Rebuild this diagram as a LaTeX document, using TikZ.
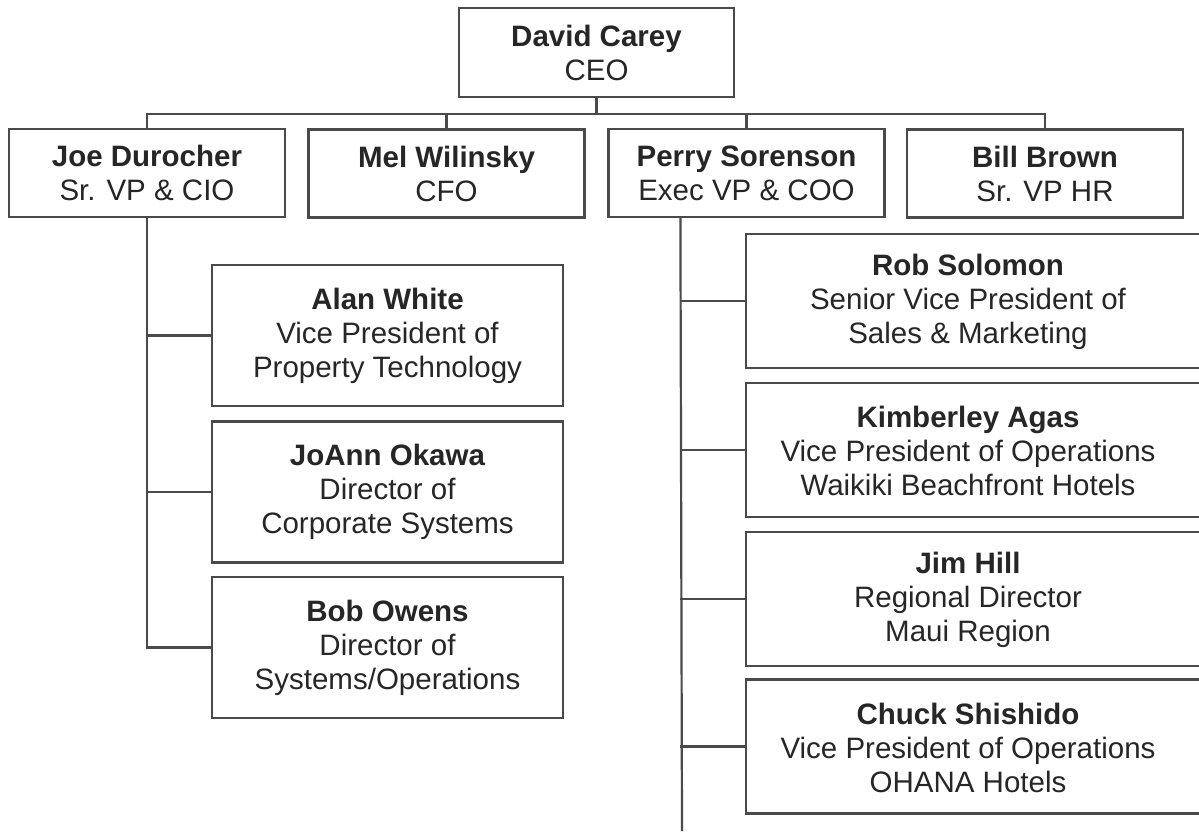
\documentclass[tikz,border=0pt]{standalone}
\usepackage{fontspec}
\setmainfont{Liberation Sans}
\definecolor{linegray}{HTML}{4A4A4A}
\definecolor{textgray}{HTML}{262626}
\begin{document}
\begin{tikzpicture}[x=1pt,y=-1pt,
  box/.style={draw=linegray, line width=2.2pt, fill=white, inner sep=0pt,
    align=center, text=textgray, font=\fontsize{29.5}{34}\selectfont},
  txt/.style={inner sep=0pt, align=center, text=textgray,
    font=\fontsize{29.5}{34}\selectfont},
  link/.style={draw=linegray, line width=2.2pt},
  top/.style={box, minimum width=276, minimum height=88},
  sub/.style={box, minimum width=351, minimum height=141},
  ops/.style={box, minimum width=520, minimum height=134, anchor=west},
]
\useasboundingbox (0,0) rectangle (1199,831);

% bus lines
\coordinate (bus) at (0,114);

% executives
\node[box, minimum width=275, minimum height=89] (ceo) at (596.5,52.5)
  {\textbf{David Carey}\\CEO};
\node[top] (joe) at (147,173) {\textbf{Joe Durocher}\\Sr. VP \& CIO};
\node[top] (mel) at (446.5,173.5) {\textbf{Mel Wilinsky}\\CFO};
\node[top] (perry) at (746.5,173) {\textbf{Perry Sorenson}\\Exec VP \& COO};
\node[top] (bill) at (1045,173.5) {\textbf{Bill Brown}\\Sr. VP HR};

% CIO reports
\node[sub] (alan) at (387.5,335.5)
  {\textbf{Alan White}\\Vice President of\\Property Technology};
\node[sub] (joann) at (387.5,492)
  {\textbf{JoAnn Okawa}\\Director of\\Corporate Systems};
\node[sub] (bob) at (387.5,647.5)
  {\textbf{Bob Owens}\\Director of\\Systems/Operations};

% COO reports (boxes run off the right edge)
\node[ops] (rob) at (745,301) {};
\node[txt] (robt) at (968,302)
  {\textbf{Rob Solomon}\\Senior Vice President of\\Sales \& Marketing};
\node[ops] (kim) at (745,450) {};
\node[txt] (kimt) at (968,451)
  {\textbf{Kimberley Agas}\\Vice President of Operations\\Waikiki Beachfront Hotels};
\node[ops] (jim) at (745,599) {};
\node[txt] (jimt) at (968,600)
  {\textbf{Jim Hill}\\Regional Director\\Maui Region};
\node[ops] (chuck) at (745,746.5) {};
\node[txt] (chuckt) at (968,747.5)
  {\textbf{Chuck Shishido}\\Vice President of Operations\\OHANA Hotels};

% top-level connectors
\draw[link] (ceo.south) -- (ceo.south |- bus);
\draw[link] (joe.north) -- (joe.north |- bus) -- (bill.north |- bus) -- (bill.north);
\draw[link] (mel.north) -- (mel.north |- bus);
\draw[link] (perry.north) -- (perry.north |- bus);

% CIO branch
\draw[link] (joe.south) |- (bob.west);
\draw[link] (alan.west) -- (alan.west -| joe.south);
\draw[link] (joann.west) -- (joann.west -| joe.south);

% COO branch
\coordinate (ptap) at ([xshift=73pt]perry.south west);
\coordinate (pend) at (682,831);
\draw[link] (ptap) -- (pend);
\draw[link] (rob.west) -- (rob.west -| ptap);
\draw[link] (kim.west) -- (kim.west -| ptap);
\draw[link] (jim.west) -- (jim.west -| ptap);
\draw[link] (chuck.west) -- (chuck.west -| ptap);
\end{tikzpicture}
\end{document}
